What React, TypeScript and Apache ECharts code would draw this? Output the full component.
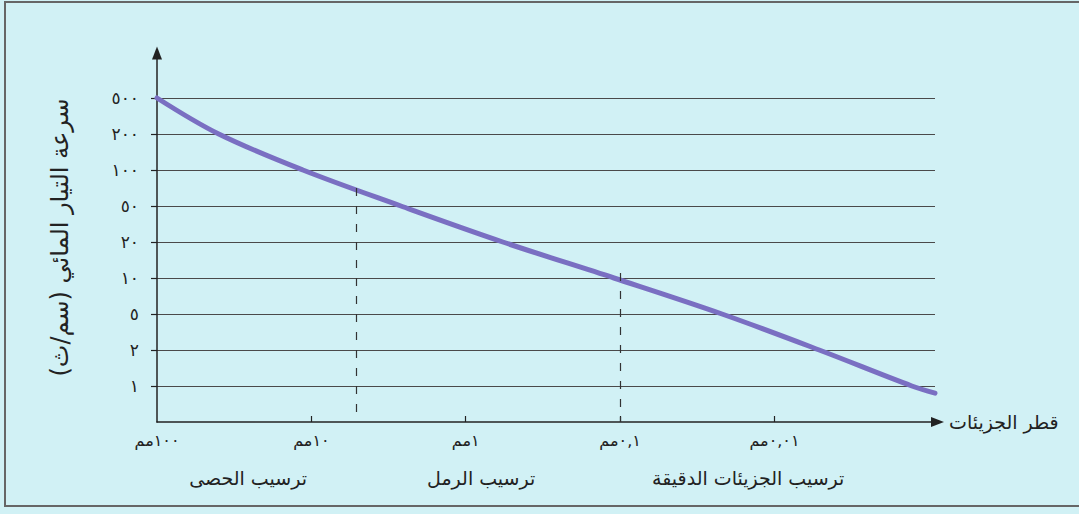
import React, { useEffect, useRef } from "react";
import * as echarts from "echarts";

// Tick labels for the particle-diameter axis (one decade per step, 100 mm at the origin)
const diameterLabels = ["١٠٠مم", "١٠مم", "١مم", "٠,١مم", "٠,٠١مم"];
const diameterTickSteps = [0, 1, 2, 3, 4];

// Tick labels for the current-speed axis (evenly spaced 1-2-5 steps)
const speedLabels = ["١", "٢", "٥", "١٠", "٢٠", "٥٠", "١٠٠", "٢٠٠", "٥٠٠"];
const speedTickSteps = [0, 1, 2, 3, 4, 5, 6, 7, 8];

// Deposition zones and where their captions sit along the diameter axis
const zoneLabels = ["ترسيب الحصى", "ترسيب الرمل", "ترسيب الجزيئات الدقيقة"];
const zoneCenters = [0.59, 2.1, 3.83];

// Zone boundaries: diameter step and the speed step where the curve meets them
const boundaryDiameter = [1.29, 3];
const boundarySpeed = [5.5, 3.14];

// Critical speed curve, in axis steps (diameter step, speed step)
const curveDiameter = [0, 0.4, 0.945, 1.58, 2.24, 2.96, 3.66, 4.29, 4.89, 5.04];
const curveSpeed = [8, 7, 6, 5, 4, 3, 2, 1, 0, -0.2];

const RLM = "\u200F";
const speedTitle = RLM + "سرعة التيار المائي (سم/ث)" + RLM;
const diameterTitle = "قطر الجزيئات";

const FONT = "DejaVu Sans";
const INK = "#222222";
const X_MIN = 0;
const X_MAX = 5.04;
const Y_MIN = -1;
const Y_MAX = 9.25;

export default function App() {
  const ref = useRef<HTMLDivElement>(null);

  useEffect(() => {
    if (!ref.current) return;
    const chart = echarts.init(ref.current, null, { renderer: "svg" });

    const curve = curveDiameter.map((x, i) => [x, curveSpeed[i]]);
    const boundaries = boundaryDiameter.map((x, i) => [
      { coord: [x, boundarySpeed[i]] },
      { coord: [x, Y_MIN] },
    ]);

    chart.setOption({
      animation: false,
      backgroundColor: "#d1f1f5",
      textStyle: { fontFamily: FONT },
      grid: { left: 157, right: 144, top: 53, bottom: 92 },
      xAxis: {
        type: "value",
        min: X_MIN,
        max: X_MAX,
        position: "bottom",
        name: diameterTitle,
        nameLocation: "end",
        nameGap: 14,
        nameTextStyle: { fontSize: 19, color: INK, fontFamily: FONT, verticalAlign: "middle" },
        axisLine: {
          show: true,
          onZero: false,
          symbol: ["none", "none"],
          lineStyle: { color: INK, width: 1.5 },
        },
        axisTick: {
          show: true,
          inside: true,
          length: 6,
          customValues: [1, 2, 3, 4],
          lineStyle: { color: INK, width: 1.2 },
        },
        axisLabel: {
          customValues: diameterTickSteps,
          formatter: (v: number) => diameterLabels[Math.round(v)] ?? "",
          margin: 10,
          fontSize: 16,
          color: INK,
          fontFamily: FONT,
        },
        splitLine: { show: false },
      },
      yAxis: {
        type: "value",
        min: Y_MIN,
        max: Y_MAX,
        name: speedTitle,
        nameLocation: "middle",
        nameRotate: 90,
        nameGap: 85,
        nameTextStyle: { fontSize: 24, color: INK, fontFamily: FONT },
        axisLine: {
          show: true,
          onZero: false,
          symbol: ["none", "triangle"],
          symbolSize: [10, 13],
          lineStyle: { color: INK, width: 1.5 },
        },
        axisTick: {
          show: true,
          inside: false,
          length: 6,
          customValues: speedTickSteps,
          lineStyle: { color: INK, width: 1.2 },
        },
        axisLabel: {
          customValues: speedTickSteps,
          formatter: (v: number) => speedLabels[Math.round(v)] ?? "",
          margin: 18,
          fontSize: 17,
          color: INK,
          fontFamily: FONT,
        },
        splitLine: { show: true, lineStyle: { color: "#4a4a4a", width: 1 } },
      },
      series: [
        {
          type: "line",
          data: curve,
          smooth: 0.35,
          showSymbol: false,
          z: 3,
          lineStyle: { color: "#7a6fc2", width: 5, cap: "round" },
          markLine: {
            silent: true,
            symbol: ["none", "none"],
            label: { show: false },
            lineStyle: { color: "#333333", width: 1.2, type: [8, 10] },
            data: boundaries,
          },
        },
      ],
    });

    // Zone captions under the diameter axis, placed through the axis scale
    const captions = zoneCenters.map((v, i) => {
      const [px, py] = chart.convertToPixel({ gridIndex: 0 }, [v, Y_MIN]) as number[];
      return {
        type: "text",
        x: px,
        y: py + 56,
        style: {
          text: zoneLabels[i],
          fontSize: 19,
          fontFamily: FONT,
          fill: INK,
          align: "center",
          verticalAlign: "middle",
        },
        silent: true,
      };
    });

    // Diameter-axis arrowhead at the far end of the axis line
    const [endX, endY] = chart.convertToPixel({ gridIndex: 0 }, [X_MAX, Y_MIN]) as number[];

    chart.setOption({
      graphic: [
        ...captions,
        {
          type: "polygon",
          shape: { points: [[endX - 4, endY - 5], [endX + 9, endY], [endX - 4, endY + 5]] },
          style: { fill: INK },
          silent: true,
          z: 5,
        },
        {
          type: "rect",
          shape: { x: 5, y: 2, width: 1090, height: 504 },
          style: { fill: "none", stroke: "#666666", lineWidth: 2 },
          silent: true,
          z: 10,
        },
      ],
    });

    return () => chart.dispose();
  }, []);

  return (
    <div
      ref={ref}
      style={{ position: "fixed", left: 0, top: 0, width: 1079, height: 514 }}
    />
  );
}
